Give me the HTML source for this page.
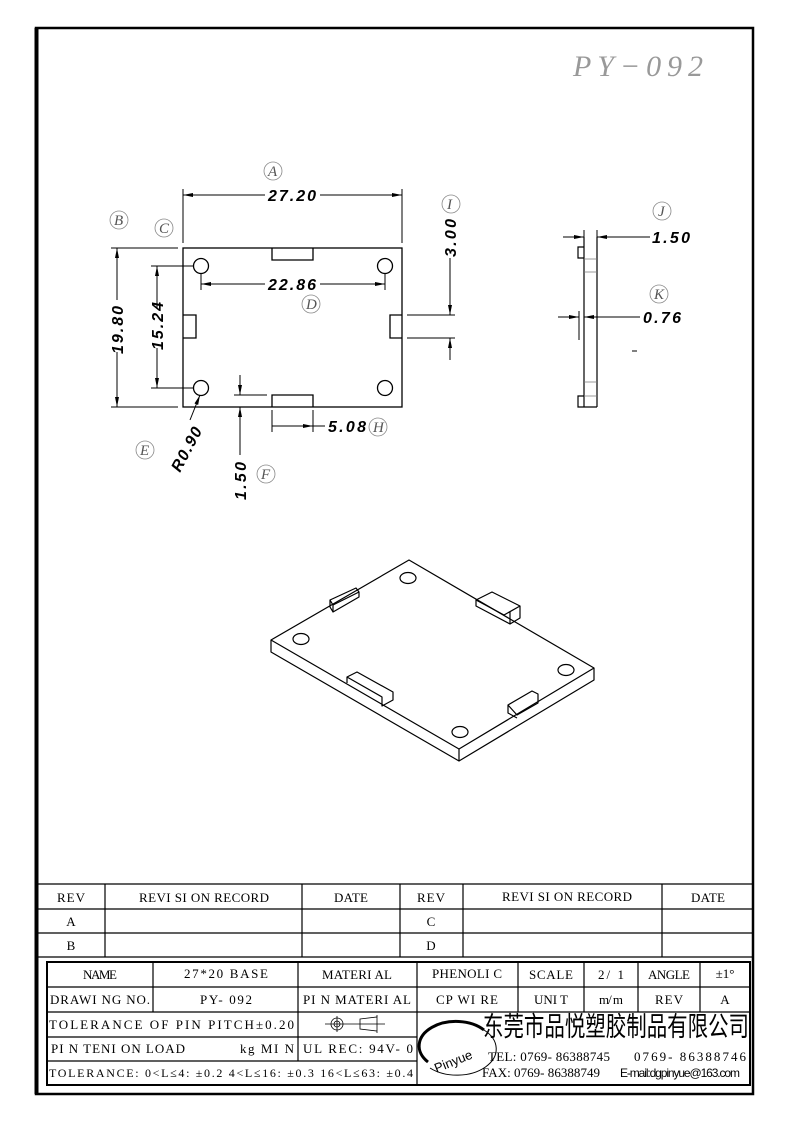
<!DOCTYPE html>
<html><head><meta charset="utf-8"><style>
html,body{margin:0;padding:0;background:#fff;}
svg{display:block;}
.t{font-family:"Liberation Serif","Noto Serif CJK SC",serif;font-size:13px;fill:#000;}
.d{font-family:"Liberation Sans",sans-serif;font-size:16px;font-weight:bold;font-style:italic;fill:#000;}
.c{font-family:"Liberation Serif",serif;font-style:italic;font-size:15px;fill:#555;}
</style></head><body>
<svg width="793" height="1123" viewBox="0 0 793 1123" xmlns="http://www.w3.org/2000/svg">
<defs>
<marker id="ar" markerWidth="10" markerHeight="6" refX="10" refY="3" orient="auto" markerUnits="userSpaceOnUse"><path d="M0,1 L10,3 L0,5 z" fill="#000"/></marker>
</defs>
<rect x="36" y="28" width="717" height="1066" fill="none" stroke="#000" stroke-width="2.5"/>
<line x1="36.5" y1="28" x2="36.5" y2="1094" stroke="#000" stroke-width="4"/>
<text x="573" y="76" font-family="Liberation Serif,serif" font-style="italic" font-size="30" fill="#999" textLength="130">PY−092</text>

<g stroke="#000" stroke-width="1.3" fill="none">
<rect x="183" y="248" width="219" height="159"/>
<path d="M272 248 V260 H313 V248 M272 407 V395 H313 V407 M183 315 H196 V338 H183 M402 315 H390 V338 H402"/>
<circle cx="201" cy="266" r="7.5"/><circle cx="385" cy="266" r="7.5"/>
<circle cx="201" cy="388" r="7.5"/><circle cx="385" cy="388" r="7.5"/>
</g>
<g stroke="#000" stroke-width="1" fill="none">
<path d="M183 189 V243 M402 189 V243"/>
<line x1="265" y1="195" x2="183" y2="195" marker-end="url(#ar)"/>
<line x1="320" y1="195" x2="402" y2="195" marker-end="url(#ar)"/>
<path d="M111 248 H178 M111 407 H178"/>
<line x1="117" y1="300" x2="117" y2="248" marker-end="url(#ar)"/>
<line x1="117" y1="352" x2="117" y2="407" marker-end="url(#ar)"/>
<path d="M151 266 H194 M151 388 H194"/>
<line x1="157" y1="308" x2="157" y2="266" marker-end="url(#ar)"/>
<line x1="157" y1="348" x2="157" y2="388" marker-end="url(#ar)"/>
<path d="M201 273 V290 M385 273 V290"/>
<line x1="265" y1="284" x2="201" y2="284" marker-end="url(#ar)"/>
<line x1="320" y1="284" x2="385" y2="284" marker-end="url(#ar)"/>
<path d="M407 315 H455 M407 338 H455"/>
<line x1="450" y1="258" x2="450" y2="315" marker-end="url(#ar)"/>
<line x1="450" y1="360" x2="450" y2="338" marker-end="url(#ar)"/>
<path d="M234 395 H267"/>
<line x1="240" y1="375" x2="240" y2="395" marker-end="url(#ar)"/>
<line x1="240" y1="455" x2="240" y2="407" marker-end="url(#ar)"/>
<path d="M272 410 V432 M313 410 V432"/>
<line x1="272" y1="426" x2="313" y2="426" marker-end="url(#ar)"/>
<line x1="313" y1="426" x2="325" y2="426"/>
<line x1="190" y1="420" x2="200" y2="395" marker-end="url(#ar)"/>
</g>
<text class="d" x="268" y="201" textLength="48">27.20</text>
<text class="d" x="268" y="290" textLength="48">22.86</text>
<text class="d" x="328" y="432" textLength="38">5.08</text>
<text class="d" transform="translate(123,354) rotate(-90)" textLength="48">19.80</text>
<text class="d" transform="translate(163,350) rotate(-90)" textLength="48">15.24</text>
<text class="d" transform="translate(456,257) rotate(-90)" textLength="38">3.00</text>
<text class="d" transform="translate(246,500) rotate(-90)" textLength="38">1.50</text>
<text class="d" transform="translate(180,473) rotate(-62)" textLength="48">R0.90</text>
<g fill="none" stroke="#888" stroke-width="0.8">
<circle cx="273" cy="171" r="9"/><circle cx="119" cy="220" r="9"/><circle cx="164" cy="228" r="9"/>
<circle cx="311" cy="304" r="9"/><circle cx="451" cy="204" r="9"/><circle cx="145" cy="450" r="9"/>
<circle cx="266" cy="474" r="9"/><circle cx="378" cy="427" r="9"/><circle cx="662" cy="211" r="9"/><circle cx="659" cy="294" r="9"/>
</g>
<text class="c" x="268" y="176">A</text><text class="c" x="114" y="225">B</text><text class="c" x="159" y="233">C</text>
<text class="c" x="306" y="309">D</text><text class="c" x="447" y="209">I</text><text class="c" x="140" y="455">E</text>
<text class="c" x="261" y="479">F</text><text class="c" x="373" y="432">H</text><text class="c" x="658" y="216">J</text><text class="c" x="654" y="299">K</text>

<g stroke="#000" stroke-width="1.2" fill="none">
<path d="M584 237 V407 M597 237 V407 M584 247 H578 V258 H584 M584 396 H578 V407 H597"/>
</g>
<g stroke="#777" stroke-width="0.8"><path d="M584 259 H597 M584 272 H597 M584 382 H597 M584 396 H597"/></g>
<g stroke="#000" stroke-width="1" fill="none">
<path d="M584 230 V247 M597 230 V247"/>
<line x1="563" y1="237" x2="584" y2="237" marker-end="url(#ar)"/>
<line x1="650" y1="237" x2="597" y2="237" marker-end="url(#ar)"/>
<path d="M579 311 V340 M584 311 V340"/>
<line x1="558" y1="317" x2="579" y2="317" marker-end="url(#ar)"/>
<line x1="640" y1="317" x2="584" y2="317" marker-end="url(#ar)"/>
<path d="M632 351 H637"/>
</g>
<text class="d" x="652" y="243" textLength="38">1.50</text>
<text class="d" x="643" y="323" textLength="38">0.76</text>

<g stroke="#000" stroke-width="1.2" fill="none" stroke-linejoin="round">
<path d="M409 560 L271 640 L459 749 L594 668 Z"/>
<path d="M271 640 V652 L459 761 L594 680 V668 M459 749 V761"/>
<path d="M330 600 L356 588 L359 592 L333 605 Z M333 605 V612 L359 597 V592 M330 600 V607 L333 612"/>
<path d="M476 600 L504 615 L520 606 L492 592 Z M476 600 V606 L510 624 V612 M510 624 L520 618 V606"/>
<path d="M347 677 L357 672 L393 692 V700 L382 706 V697 Z M347 677 V683"/>
<path d="M508 705 L532 691 L538 694 V703 L517 715 Z M508 705 V713 L517 718"/>
<ellipse cx="408" cy="578" rx="8" ry="5.5"/><ellipse cx="301" cy="639" rx="8" ry="5.5"/>
<ellipse cx="566" cy="670" rx="8" ry="5.5"/><ellipse cx="460" cy="732" rx="8" ry="5.5"/>
</g>

<g stroke="#000" stroke-width="1.2" fill="none">
<path d="M36 884 H753 M36 909 H753 M36 933 H753 M36 957 H753"/>
<path d="M105 884 V957 M302 884 V957 M400 884 V957 M463 884 V957 M662 884 V957"/>
<rect x="47" y="962" width="703" height="123" stroke-width="2"/>
<path d="M47 987 H750 M47 1012 H750 M47 1037 H417 M47 1061 H417"/>
<path d="M153 962 V1012 M298 962 V1061 M417 962 V1085 M518 962 V1012 M584 962 V1012 M638 962 V1012 M700 962 V1012"/>
</g>
<g class="t" text-anchor="middle">
<text x="71" y="902" textLength="28">REV</text><text x="204" y="902" textLength="130">REVI SI ON RECORD</text>
<text x="351" y="902" textLength="34">DATE</text><text x="431" y="902" textLength="28">REV</text>
<text x="567" y="901" textLength="130">REVI SI ON RECORD</text><text x="708" y="902" textLength="34">DATE</text>
<text x="71" y="926">A</text><text x="71" y="950">B</text><text x="431" y="926">C</text><text x="431" y="950">D</text>
<text x="100" y="979" textLength="34">NAME</text><text x="226" y="978" textLength="84">27*20 BASE</text>
<text x="357" y="979" textLength="70">MATERI AL</text><text x="467" y="978" textLength="70">PHENOLI C</text>
<text x="551" y="979" textLength="44">SCALE</text><text x="611" y="979" textLength="26">2/ 1</text>
<text x="669" y="979" textLength="42">ANGLE</text><text x="725" y="978">±1°</text>
<text x="100" y="1004" textLength="100">DRAWI NG NO.</text><text x="226" y="1004" textLength="52">PY- 092</text>
<text x="357" y="1004" textLength="108">PI N MATERI AL</text><text x="467" y="1004" textLength="62">CP WI RE</text>
<text x="551" y="1004" textLength="34">UNI T</text><text x="611" y="1004" textLength="24">m/ m</text>
<text x="669" y="1004" textLength="28">REV</text><text x="725" y="1004">A</text>
</g>
<g class="t">
<text x="49" y="1029" textLength="245">TOLERANCE OF PIN PITCH±0.20</text>
<text x="51" y="1053" textLength="134">PI N TENI ON LOAD</text><text x="240" y="1053" textLength="54">kg MI N</text>
<text x="303" y="1053" textLength="110">UL REC: 94V- 0</text>
<text x="49" y="1077" textLength="364" font-size="12">TOLERANCE: 0&lt;L≤4: ±0.2  4&lt;L≤16: ±0.3  16&lt;L≤63: ±0.4</text>
</g>
<g stroke="#000" stroke-width="0.8" fill="none">
<circle cx="337" cy="1024" r="6"/><circle cx="337" cy="1024" r="3"/><path d="M325 1024 H385 M337 1016 V1032 M360 1019 L377 1017 V1031 L360 1029 Z M377 1015 V1033"/>
</g>
<g fill="none" stroke="#000">
<path d="M428 1062 A30 20 0 0 1 484 1030" stroke-width="3"/>
<path d="M484 1030 A30 20 0 0 1 430 1068" stroke-width="1"/>
</g>
<text x="432" y="1066" font-family="Liberation Sans,sans-serif" font-size="13" transform="rotate(-22 452 1058)">Pinyue</text>
<text x="483" y="1036" font-family="Liberation Sans,'Noto Sans CJK SC',sans-serif" font-size="27" textLength="266" lengthAdjust="spacingAndGlyphs">东莞市品悦塑胶制品有限公司</text>
<text class="t" x="488" y="1061" font-size="12" textLength="122">TEL: 0769- 86388745</text>
<text class="t" x="634" y="1061" font-size="12" textLength="112">0769- 86388746</text>
<text class="t" x="482" y="1077" font-size="12" textLength="118">FAX: 0769- 86388749</text>
<text x="620" y="1077" font-family="Liberation Sans,sans-serif" font-size="12" textLength="120">E-mail:dgpinyue@163.com</text>
</svg>
</body></html>
